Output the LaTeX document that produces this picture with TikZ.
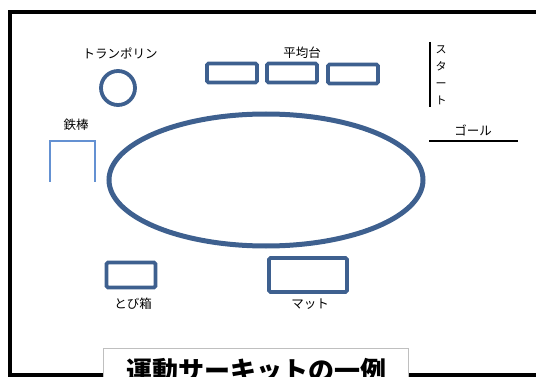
\documentclass[tikz,border=0pt]{standalone}
\usepackage{fontspec}
\usetikzlibrary{shapes.geometric}
\newfontfamily\jp{Noto Sans CJK JP}
\definecolor{eqblue}{RGB}{62,96,143}
\definecolor{barblue}{RGB}{100,145,210}
\begin{document}
\begin{tikzpicture}[x=1pt,y=-1pt,
  equip/.style={draw=eqblue,line width=3.8pt,rounded corners=1.5pt},
  lbl/.style={font=\jp\fontsize{12.5}{14}\selectfont,inner sep=0pt},
  ttl/.style={font=\jp\bfseries\fontsize{26}{30}\selectfont,inner sep=0pt}]
\useasboundingbox (0,0) rectangle (536,377);
% outer frame
\draw[line width=4pt] (10,390) -- (10,12) -- (545,12);
\draw[line width=4pt] (10,375) -- (545,375);
% title box
\node[draw=gray!50,line width=1pt,fill=white,minimum width=305pt,minimum height=40pt,anchor=north west,inner sep=0pt] (tbox) at (103,348) {};
\node[ttl] (title) at (256,371) {運動サーキットの一例};
% trampoline
\node[equip,circle,minimum size=34pt,inner sep=0pt] (tramp) at (118,88) {};
\node[lbl] (ltramp) at (120,53) {トランポリン};
% balance beams
\node[equip,minimum width=50pt,minimum height=19pt,inner sep=0pt] (b1) at (232,73) {};
\node[equip,minimum width=50pt,minimum height=19pt,inner sep=0pt] (b2) at (292,73) {};
\node[equip,minimum width=50pt,minimum height=19pt,inner sep=0pt] (b3) at (353,74) {};
\node[lbl] (lbeam) at (302,53) {平均台};
% start
\coordinate (s1) at (430,42);
\coordinate (s2) at (430,107);
\draw[line width=2pt] (s1) -- (s2);
\node[lbl,align=center,font=\jp\fontsize{11}{17}\selectfont] (lstart) at (441,75) {ス\\タ\\ー\\ト};
% goal
\coordinate (g1) at (429,141);
\coordinate (g2) at (518,141);
\draw[line width=2.5pt] (g1) -- (g2);
\node[lbl] (lgoal) at (473,130) {ゴール};
% iron bar
\node[lbl] (lbar) at (76,125) {鉄棒};
\coordinate (i1) at (50,182);
\coordinate (i2) at (50,141);
\coordinate (i3) at (95,141);
\coordinate (i4) at (95,182);
\draw[barblue,line width=1.2pt] (i1) -- (i2) -- (i3) -- (i4);
% ellipse
\node[draw=eqblue,line width=5pt,ellipse,minimum width=314pt,minimum height=132pt,inner sep=0pt] (track) at (266,180) {};
% jump box
\node[equip,minimum width=49pt,minimum height=25pt,inner sep=0pt] (jbox) at (131,275) {};
\node[lbl] (ljbox) at (133,304) {とび箱};
% mat
\node[equip,minimum width=78pt,minimum height=34pt,inner sep=0pt] (mat) at (308,275) {};
\node[lbl] (lmat) at (310,304) {マット};
\end{tikzpicture}
\end{document}
